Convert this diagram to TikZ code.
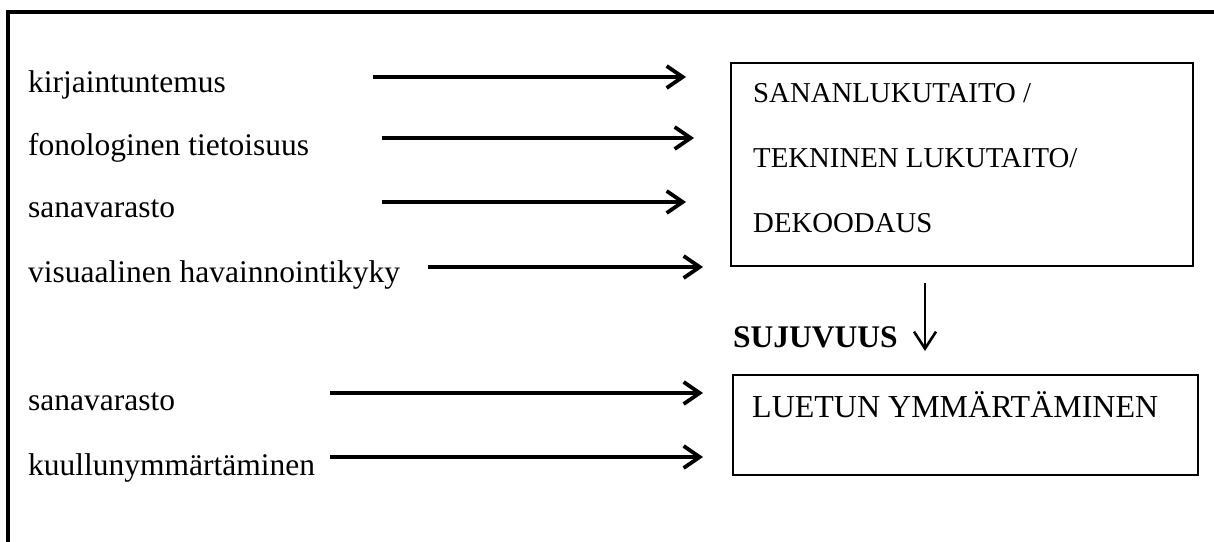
\documentclass[tikz,border=0pt]{standalone}
\usepackage{fontspec}
\setmainfont{Liberation Serif}
\usetikzlibrary{arrows.meta}
\tikzset{
  label/.style={anchor=base west, inner sep=0pt, font=\fontsize{31.5}{36}\selectfont},
  boxtext/.style={anchor=base west, inner sep=0pt, font=\fontsize{28.8}{32}\selectfont},
  bigtext/.style={anchor=base west, inner sep=0pt, font=\fontsize{32}{36}\selectfont},
  feed/.style={line width=3.8pt, -{Straight Barb[length=16pt, width=22pt, line width=3.8pt]}},
  down/.style={line width=2.6pt, -{Straight Barb[length=17pt, width=22pt, line width=2.6pt]}},
  frame/.style={line width=3.6pt},
}
\begin{document}
\begin{tikzpicture}[x=1pt, y=-1pt]
\useasboundingbox (0,0) rectangle (1214,541);
\clip (0,0) rectangle (1214,541);

% open outer frame
\draw[frame] (8,560) -- (8,12) -- (1230,12);

% boxes
\draw[line width=1.8pt] (731,63) rectangle (1193,266);
\node[inner sep=0pt] (dec) at (962,164) {};
\draw[line width=2.4pt] (733,375) rectangle (1198,475);
\node[inner sep=0pt] (comp) at (965,425) {};

% box texts
\node[boxtext] (t1) at (753,102) {SANANLUKUTAITO /};
\node[boxtext] (t2) at (753,167) {TEKNINEN LUKUTAITO/};
\node[boxtext] (t3) at (753,232) {DEKOODAUS};
\node[bigtext] (t4) at (752,417) {LUETUN YMMÄRTÄMINEN};

% input labels
\node[label] (l1) at (28,92) {kirjaintuntemus};
\node[label] (l2) at (28,155) {fonologinen tietoisuus};
\node[label] (l3) at (28,217) {sanavarasto};
\node[label] (l4) at (28,282) {visuaalinen havainnointikyky};
\node[label] (l5) at (28,410) {sanavarasto};
\node[label] (l6) at (28,475) {kuullunymmärtäminen};

% arrow ends
\coordinate (a1s) at (373,77);  \coordinate (a1e) at (686,77);
\coordinate (a2s) at (382,138); \coordinate (a2e) at (694,138);
\coordinate (a3s) at (382,202); \coordinate (a3e) at (686,202);
\coordinate (a4s) at (428,267); \coordinate (a4e) at (703,267);
\coordinate (a5s) at (330,393); \coordinate (a5e) at (703,393);
\coordinate (a6s) at (330,457); \coordinate (a6e) at (703,457);

\draw[feed] (a1s) -- (a1e);
\draw[feed] (a2s) -- (a2e);
\draw[feed] (a3s) -- (a3e);
\draw[feed] (a4s) -- (a4e);
\draw[feed] (a5s) -- (a5e);
\draw[feed] (a6s) -- (a6e);

% fluency link
\node[anchor=base west, inner sep=0pt, font=\fontsize{31.5}{36}\selectfont\bfseries] (flu) at (733,347) {SUJUVUUS};
\coordinate (ds) at (925,283);
\coordinate (de) at (925,351);
\draw[down] (ds) -- (de);
\end{tikzpicture}
\end{document}
